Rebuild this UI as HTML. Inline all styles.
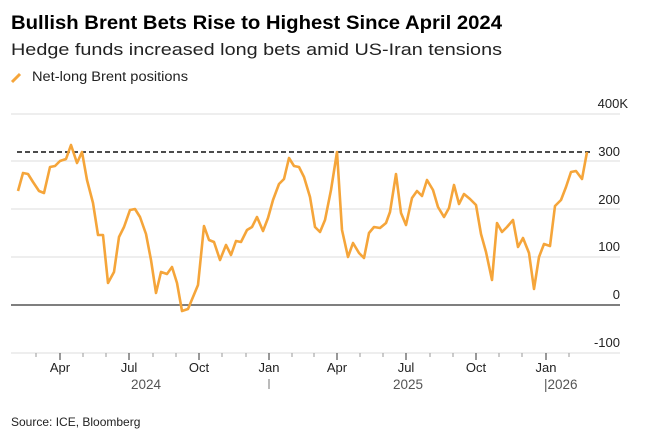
<!DOCTYPE html>
<html><head><style>body{margin:0;background:#fff}svg{display:block}</style></head>
<body>
<svg width="647" height="441" viewBox="0 0 647 441" xmlns="http://www.w3.org/2000/svg" font-family="Liberation Sans, Arial, sans-serif">
<text x="11" y="29" font-size="19" font-weight="bold" fill="#000" textLength="491" lengthAdjust="spacingAndGlyphs">Bullish Brent Bets Rise to Highest Since April 2024</text>
<text x="11" y="55" font-size="16.5" fill="#222" textLength="491" lengthAdjust="spacingAndGlyphs">Hedge funds increased long bets amid US-Iran tensions</text>
<line x1="12" y1="82" x2="20" y2="74" stroke="#f5a53a" stroke-width="3"/>
<text x="32" y="81" font-size="13.5" fill="#222" textLength="156" lengthAdjust="spacingAndGlyphs">Net-long Brent positions</text>
<g stroke="#ddd" stroke-width="1">
<line x1="11" y1="114" x2="620" y2="114"/><line x1="11" y1="161" x2="620" y2="161"/>
<line x1="11" y1="209" x2="620" y2="209"/><line x1="11" y1="257" x2="620" y2="257"/>
<line x1="11" y1="353" x2="620" y2="353"/>
</g>
<line x1="11" y1="305" x2="620" y2="305" stroke="#333" stroke-width="1.2"/>
<line x1="17" y1="152" x2="590" y2="152" stroke="#111" stroke-width="1.6" stroke-dasharray="5,3"/>
<g font-size="13" fill="#222" text-anchor="end">
<text x="628" y="108">400K</text><text x="620" y="156">300</text><text x="620" y="204">200</text>
<text x="620" y="251">100</text><text x="620" y="299">0</text><text x="620" y="347">-100</text>
</g>
<g stroke="#999" stroke-width="1">
<line x1="36" y1="353" x2="36" y2="357"/><line x1="83" y1="353" x2="83" y2="357"/><line x1="106" y1="353" x2="106" y2="357"/>
<line x1="153" y1="353" x2="153" y2="357"/><line x1="176" y1="353" x2="176" y2="357"/><line x1="222" y1="353" x2="222" y2="357"/>
<line x1="246" y1="353" x2="246" y2="357"/><line x1="292" y1="353" x2="292" y2="357"/><line x1="314" y1="353" x2="314" y2="357"/>
<line x1="360" y1="353" x2="360" y2="357"/><line x1="383" y1="353" x2="383" y2="357"/><line x1="430" y1="353" x2="430" y2="357"/>
<line x1="453" y1="353" x2="453" y2="357"/><line x1="499" y1="353" x2="499" y2="357"/><line x1="522" y1="353" x2="522" y2="357"/>
<line x1="569" y1="353" x2="569" y2="357"/>
</g>
<g stroke="#333" stroke-width="1">
<line x1="60" y1="353" x2="60" y2="360"/><line x1="129" y1="353" x2="129" y2="360"/><line x1="199" y1="353" x2="199" y2="360"/>
<line x1="269" y1="353" x2="269" y2="360"/><line x1="337" y1="353" x2="337" y2="360"/><line x1="406" y1="353" x2="406" y2="360"/>
<line x1="476" y1="353" x2="476" y2="360"/><line x1="546" y1="353" x2="546" y2="360"/>
<line x1="269" y1="379" x2="269" y2="389" stroke="#777"/>
</g>
<g font-size="13" fill="#222" text-anchor="middle">
<text x="60" y="372">Apr</text><text x="129" y="372">Jul</text><text x="199" y="372">Oct</text><text x="269" y="372">Jan</text>
<text x="337" y="372">Apr</text><text x="406" y="372">Jul</text><text x="476" y="372">Oct</text><text x="546" y="372">Jan</text>
</g>
<g font-size="13.5" fill="#555">
<text x="146" y="389" text-anchor="middle">2024</text><text x="408" y="389" text-anchor="middle">2025</text>
<text x="544" y="389">|2026</text>
</g>
<polyline fill="none" stroke="#f5a53a" stroke-width="2.6" stroke-linejoin="round" points="18,191 23,173 28,174 33,182 39,191 44,193 50,167 55,166 60,161 66,159 71,145 77,163 82,152 87,180 93,203 98,235 103,235 108,283 114,272 119,237 124,227 130,210 135,209 140,217 146,234 151,260 156,293 161,272 167,274 172,267 177,283 182,311 188,309 193,297 198,285 204,226 209,240 214,242 220,260 226,245 231,255 236,241 241,242 247,230 252,227 257,217 263,231 268,218 273,200 279,184 284,179 289,158 294,166 299,167 304,177 310,197 315,227 320,232 325,220 331,190 337,152 342,230 348,257 353,243 359,253 364,258 369,233 374,227 380,228 386,223 390,212 396,174 401,213 406,225 412,198 417,191 422,196 427,180 433,190 438,207 444,217 449,208 454,185 459,204 464,194 470,199 476,205 481,234 486,252 492,280 497,223 502,232 507,227 513,220 518,247 523,238 529,253 534,289 539,257 544,244 550,246 555,206 561,200 566,187 571,172 576,171 582,179 587,152"/>
<text x="11" y="426" font-size="12" fill="#222">Source: ICE, Bloomberg</text>
</svg>
</body></html>
